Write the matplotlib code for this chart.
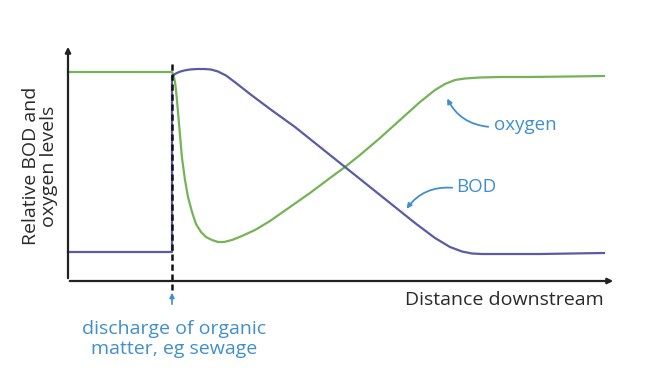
import matplotlib.pyplot as plt
from matplotlib.patches import FancyArrowPatch

plt.rcParams['font.family'] = ['Open Sans', 'DejaVu Sans']

# curves (x = distance, y = level; picture units, y grows downward)
oxy_x = [68, 172, 173.5, 175, 176.5, 178, 180, 182, 185, 188, 192, 196, 201, 206, 212,
         218, 224, 232, 242, 255, 270, 290, 310, 330, 345, 360, 380, 400, 420, 435,
         445, 455, 465, 480, 500, 530, 570, 604]
oxy_y = [72, 72, 75, 82, 95, 112, 135, 158, 180, 197, 212, 224, 232, 237, 240,
         242, 242, 240, 236, 230, 221, 207, 193, 178, 167, 155, 138, 120, 102, 90,
         84, 80, 78.5, 77.5, 77, 77, 76.5, 76]

bod_x = [68, 172, 172, 175, 179, 184, 190, 197, 204, 211, 218, 226, 236, 250, 270,
         295, 320, 345, 370, 395, 415, 435, 450, 462, 472, 482, 495, 540, 604]
bod_y = [252, 252, 77, 74, 72, 70.5, 69.5, 69, 69, 69.5, 71.5, 75.5, 83, 94, 109,
         127, 147, 167, 187, 207, 223, 238, 247, 251.5, 253.5, 254, 254, 254, 253]

discharge_x = 172

green = '#74b356'
blue = '#5a5aa6'
txtblue = '#3f8fcf'

fig = plt.figure(figsize=(6.61, 3.87), dpi=100)
ax = fig.add_axes([0, 0, 1, 1])
ax.set_xlim(0, 661)
ax.set_ylim(387, 0)
ax.axis('off')

# axes with arrows
ax.annotate('', xy=(68, 44), xytext=(68, 281),
            arrowprops=dict(arrowstyle='-|>', color='#222222', lw=1.6, mutation_scale=8))
ax.annotate('', xy=(616, 281), xytext=(67, 281),
            arrowprops=dict(arrowstyle='-|>', color='#222222', lw=1.6, mutation_scale=8))

ax.plot(oxy_x, oxy_y, color=green, lw=1.6, solid_joinstyle='round')
ax.plot(bod_x, bod_y, color=blue, lw=1.6, solid_joinstyle='round')
ax.plot([discharge_x, discharge_x], [64, 290], color='#111111', lw=1.8,
        linestyle=(0, (2.5, 1.5)))

# discharge arrow and text
ax.annotate('', xy=(discharge_x, 290), xytext=(discharge_x, 307),
            arrowprops=dict(arrowstyle='-|>', color=txtblue, lw=1.2, mutation_scale=7))
ax.text(discharge_x + 2, 339, 'discharge of organic\nmatter, eg sewage', color=txtblue,
        fontsize=14, ha='center', va='center', linespacing=1.2)

ax.text(604, 300, 'Distance downstream', color='#2a2a2a', fontsize=14,
        ha='right', va='center')
ax.text(40, 166, 'Relative BOD and\noxygen levels', color='#2a2a2a', fontsize=14,
        ha='center', va='center', rotation=90, linespacing=1.05)

# labels with curved arrows
ax.text(494, 125, 'oxygen', color=txtblue, fontsize=13.5, ha='left', va='center')
ax.add_patch(FancyArrowPatch((491, 127), (446, 96), connectionstyle='arc3,rad=-0.3',
                             arrowstyle='-|>', mutation_scale=7, color=txtblue, lw=1.3))
ax.text(456, 187, 'BOD', color=txtblue, fontsize=13.5, ha='left', va='center')
ax.add_patch(FancyArrowPatch((455, 188), (405, 211), connectionstyle='arc3,rad=0.3',
                             arrowstyle='-|>', mutation_scale=7, color=txtblue, lw=1.3))

fig.savefig('out.png', dpi=100)
